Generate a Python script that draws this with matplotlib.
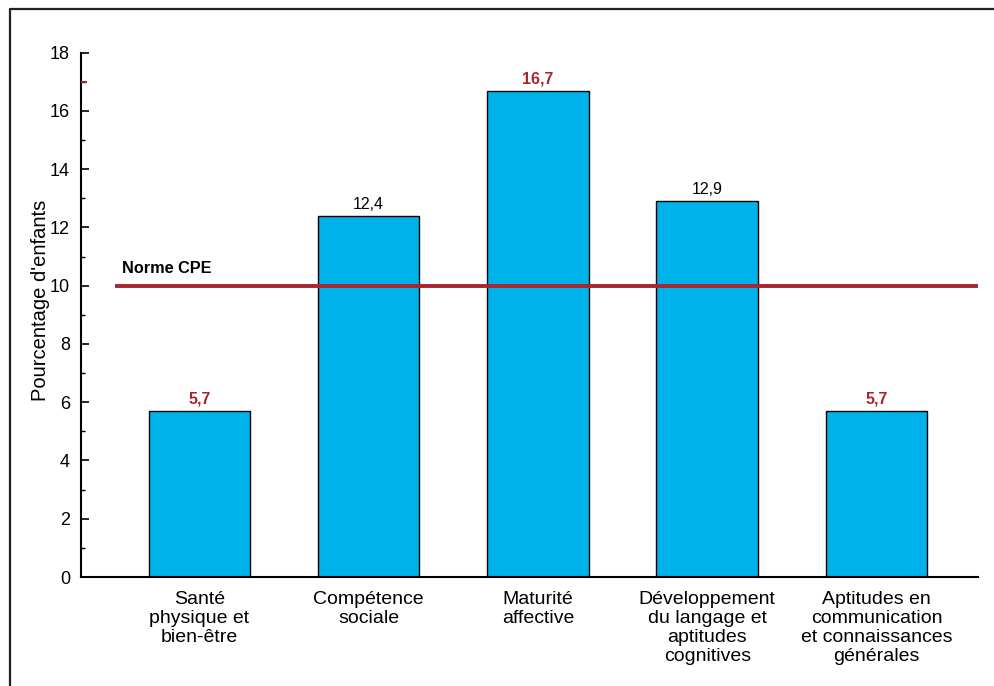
import matplotlib
matplotlib.use("Agg")
import matplotlib.pyplot as plt
from matplotlib.lines import Line2D
from matplotlib.ticker import MultipleLocator

plt.rcParams['font.family'] = ['Liberation Sans', 'DejaVu Sans']

categories = ["Santé\nphysique et\nbien-être",
              "Compétence\nsociale",
              "Maturité\naffective",
              "Développement\ndu langage et\naptitudes\ncognitives",
              "Aptitudes en\ncommunication\net connaissances\ngénérales"]
values = [5.7, 12.4, 16.7, 12.9, 5.7]
value_labels = ["5,7", "12,4", "16,7", "12,9", "5,7"]
highlight = [True, False, True, False, True]
norme = 10.0
norme_label = "Norme CPE"
yticks = [0, 2, 4, 6, 8, 10, 12, 14, 16, 18]
red_mark = 17.0

BAR = "#00B2EA"
RED = "#A8262E"

fig = plt.figure(figsize=(9.94, 6.86), dpi=100)
ax = fig.add_axes([81/994, 1-577/686, (978-81)/994, (577-52.7)/686])

x = list(range(len(values)))
bars = ax.bar(x, values, width=0.6, color=BAR, edgecolor="black", linewidth=1.0, zorder=2)

ax.hlines(norme, -0.5, 4.6, color=RED, linewidth=2.8, zorder=3)
ax.text(-0.46, norme + 0.33, norme_label, fontsize=11.7, fontweight="bold",
        ha="left", va="bottom", color="black")

for xi, v, lab, hl in zip(x, values, value_labels, highlight):
    ax.annotate(lab, (xi, v), xytext=(0, 3), textcoords="offset points",
                ha="center", va="bottom", fontsize=11.5,
                color=RED if hl else "black",
                fontweight="bold" if hl else "normal")

ax.axhline(red_mark, xmin=0, xmax=0.006, color=RED, linewidth=1.5, zorder=4)

ax.set_xlim(-0.70, 4.60)
ax.set_ylim(0, 18)
ax.set_yticks(yticks)
ax.yaxis.set_minor_locator(MultipleLocator(1))
ax.tick_params(axis="y", which="major", direction="in", length=6, width=1.2,
               labelsize=13, pad=8)
ax.tick_params(axis="y", which="minor", direction="in", length=3, width=1.0)
ax.set_xticks(x)
ax.set_xticklabels(categories, fontsize=14, linespacing=1.15, va="top")
ax.tick_params(axis="x", length=0, pad=10)

for s in ["top", "right"]:
    ax.spines[s].set_visible(False)
ax.spines["left"].set_linewidth(1.5)
ax.spines["bottom"].set_linewidth(1.5)

ax.set_ylabel("Pourcentage d'enfants", fontsize=14.5)
ax.yaxis.set_label_coords(-0.035, 0.527)

# outer frame (left and top)
fig.add_artist(Line2D([10/994, 10/994, 1.0], [0.0, 1-9/686, 1-9/686],
                      transform=fig.transFigure, color="#222222", linewidth=1.6))

fig.savefig("out.png", dpi=100)
